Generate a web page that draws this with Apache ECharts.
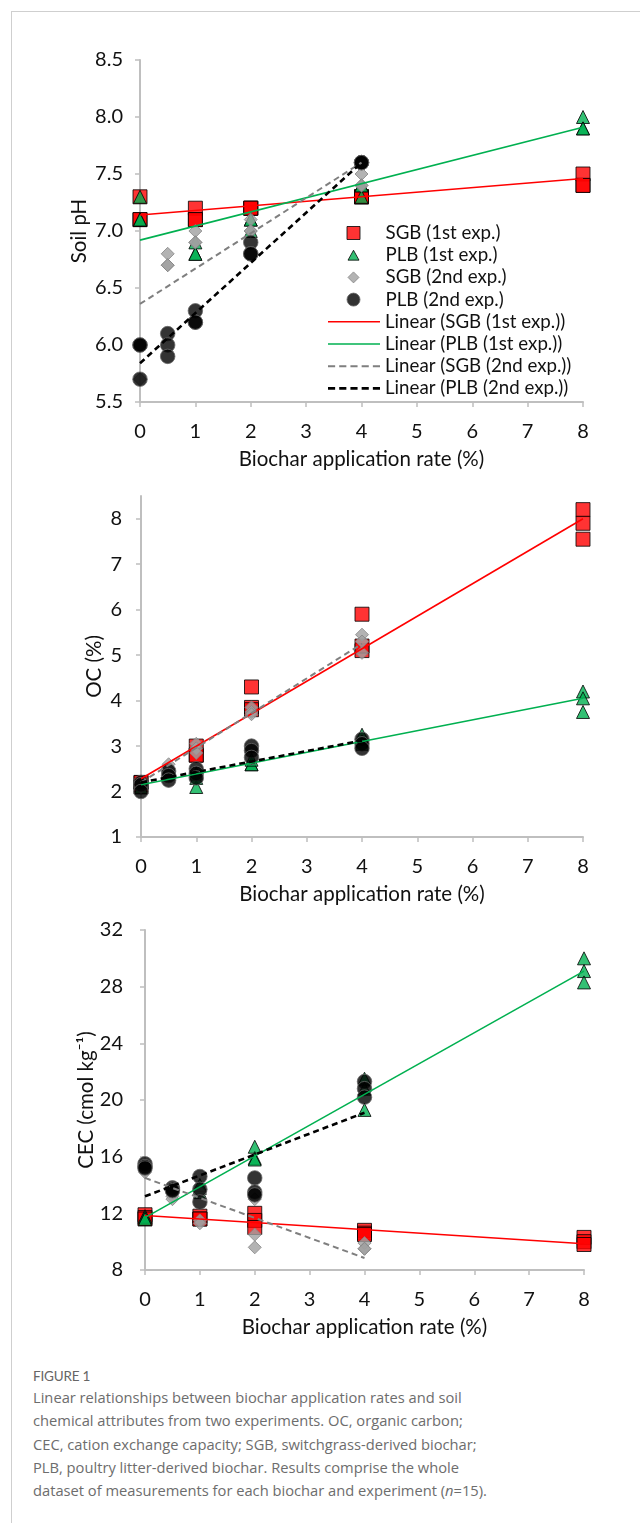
<!DOCTYPE html>
<html>
<head>
<meta charset="utf-8">
<script src="https://cdn.jsdelivr.net/npm/echarts@6/dist/echarts.min.js"></script>
<style>
  html, body { margin: 0; padding: 0; background: #fff; }
  #frame { position: absolute; left: 11px; top: 11px; width: 629px; height: 1512px;
           border-top: 1px solid #cfcfcf; border-left: 1px solid #cfcfcf; }
  #chart { position: absolute; left: 0; top: 0; width: 640px; height: 1340px; }
  #cap { position: absolute; left: 33px; top: 1366px; width: 600px; font-family: "Open Sans", Lato, sans-serif; color: #6d6d6d; }
  #cap .fig { font-family: Lato, sans-serif; font-size: 13.5px; line-height: 20px; color: #666; letter-spacing: -0.2px; }
  #cap .txt { font-size: 14.7px; line-height: 23.3px; margin-top: 0px; }
</style>
</head>
<body>
<div id="frame"></div>
<div id="chart"></div>
<div id="cap">
  <div class="fig">FIGURE 1</div>
  <div class="txt">Linear relationships between biochar application rates and soil<br>chemical attributes from two experiments. OC, organic carbon;<br>CEC, cation exchange capacity; SGB, switchgrass-derived biochar;<br>PLB, poultry litter-derived biochar. Results comprise the whole<br>dataset of measurements for each biochar and experiment (<i>n</i>=15).</div>
</div>
<script>
// ---- Data ----
const rates1 = [0,0,0, 1,1,1, 2,2,2, 4,4,4, 8,8,8];        // 1st experiment
const rates2 = [0,0,0, 0.5,0.5,0.5, 1,1,1, 2,2,2, 4,4,4];  // 2nd experiment

const seriesNames = ['SGB (1st exp.)', 'PLB (1st exp.)', 'SGB (2nd exp.)', 'PLB (2nd exp.)'];
const trendNames = ['Linear (SGB (1st exp.))', 'Linear (PLB (1st exp.))', 'Linear (SGB (2nd exp.))', 'Linear (PLB (2nd exp.))'];

// Soil pH
const phSGB1 = [7.3,7.1,7.1, 7.2,7.1,7.1, 7.2,7.2,7.2, 7.3,7.3,7.3, 7.5,7.4,7.4];
const phPLB1 = [7.3,7.1,7.1, 6.9,6.8,6.8, 7.1,7.0,7.1, 7.4,7.4,7.3, 8.0,7.9,7.9];
const phSGB2 = [6.0,6.0,5.7, 6.8,6.7,6.7, 7.0,6.9,6.9, 7.1,7.0,7.0, 7.5,7.4,7.4];
const phPLB2 = [6.0,6.0,5.7, 6.1,6.0,5.9, 6.3,6.2,6.2, 6.9,6.8,6.8, 7.6,7.6,7.6];
const phTrendSGB1 = [[0,7.14],[8,7.46]];
const phTrendPLB1 = [[0,6.92],[8,7.91]];
const phTrendSGB2 = [[0,6.36],[4,7.60]];
const phTrendPLB2 = [[0,5.84],[4,7.60]];

// OC (%)
const ocSGB1 = [2.2,2.2,2.1, 3.0,2.8,2.8, 4.3,3.85,3.8, 5.9,5.1,5.2, 8.2,7.9,7.55];
const ocPLB1 = [2.2,2.2,2.1, 2.1,2.3,2.4, 2.6,2.6,2.7, 3.25,3.1,3.05, 4.2,4.05,3.75];
const ocSGB2 = [2.2,2.2,2.1, 2.6,2.5,2.45, 3.05,2.95,2.85, 3.85,3.75,3.7, 5.45,5.3,5.05];
const ocPLB2 = [2.2,2.15,2.0, 2.45,2.35,2.25, 2.5,2.4,2.3, 3.0,2.9,2.75, 3.15,3.05,2.95];
const ocTrendSGB1 = [[0,2.28],[8,8.0]];
const ocTrendPLB1 = [[0,2.15],[8,4.05]];
const ocTrendSGB2 = [[0,2.2],[4,5.25]];
const ocTrendPLB2 = [[0,2.2],[4,3.12]];

// CEC (cmol kg-1)
const cecSGB1 = [11.9,11.7,11.6, 11.8,11.6,11.6, 12.0,11.5,11.0, 10.8,10.6,10.5, 10.3,10.0,9.8];
const cecPLB1 = [11.8,11.7,11.6, 13.5,13.8,14.0, 16.7,15.9,15.8, 21.5,20.8,19.3, 30.0,29.1,28.3];
const cecSGB2 = [15.3,15.0,14.9, 13.5,13.2,13.0, 13.5,11.5,11.3, 13.0,10.5,9.6, 9.9,9.5,9.5];
const cecPLB2 = [15.5,15.3,15.2, 13.8,13.7,13.6, 14.6,13.7,12.8, 14.5,13.5,13.3, 21.3,20.8,20.2];
const cecTrendSGB1 = [[0,11.85],[8,9.85]];
const cecTrendPLB1 = [[0,11.7],[8,29.1]];
const cecTrendSGB2 = [[0,14.5],[4,8.85]];
const cecTrendPLB2 = [[0,13.2],[4,19.1]];

const xTicks = [0,1,2,3,4,5,6,7,8];
const phTicks = [5.5,6.0,6.5,7.0,7.5,8.0,8.5];
const ocTicks = [1,2,3,4,5,6,7,8];
const cecTicks = [8,12,16,20,24,28,32];

// ---- Chart ----
const FONT = 'Lato, "Open Sans", sans-serif';
const TXT = '#111';
const AXC = '#bfbfbf';
const TICK_FS = 20, NAME_FS = 20.5, LEG_FS = 18.7;

function pairs(xs, ys) { return xs.map((x, i) => [x, ys[i]]); }

const markerStyles = [
  { symbol: 'rect', symbolSize: 14, itemStyle: { color: '#ff0000', borderColor: '#000', borderWidth: 1 } },
  { symbol: 'triangle', symbolSize: 13, itemStyle: { color: '#00b050', borderColor: '#000', borderWidth: 1 } },
  { symbol: 'diamond', symbolSize: 13, itemStyle: { color: '#a0a0a0', borderColor: '#858585', borderWidth: 1 } },
  { symbol: 'circle', symbolSize: 14.5, itemStyle: { color: '#000', borderColor: '#666', borderWidth: 1 } }
];
const lineStyles = [
  { color: '#ff0000', width: 1.6, type: 'solid' },
  { color: '#00b050', width: 1.6, type: 'solid' },
  { color: '#7f7f7f', width: 2, type: [6, 4] },
  { color: '#000000', width: 2.6, type: [6, 4] }
];

// legend icons (kept aspect via path)
const legendIcons = [
  { icon: 'path://M0,0h10v10h-10z', size: 13 },
  { icon: 'path://M5,0L10,9L0,9Z', size: 11 },
  { icon: 'path://M5,0L10,5L5,10L0,5Z', size: 11 },
  { icon: 'path://M0,5a5,5 0 1,0 10,0a5,5 0 1,0 -10,0Z', size: 13 }
];
const lineIcons = [
  'path://M0,0h52v1.6h-52z',
  'path://M0,0h52v1.6h-52z',
  'path://M0,0h7v2h-7z M11,0h7v2h-7z M22,0h7v2h-7z M33,0h7v2h-7z M44,0h7v2h-7z',
  'path://M0,0h7v2.6h-7z M11,0h7v2.6h-7z M22,0h7v2.6h-7z M33,0h7v2.6h-7z M44,0h7v2.6h-7z'
];

function xAxis(gi) {
  return {
    type: 'value', gridIndex: gi, min: 0, max: 8, interval: 1,
    name: 'Biochar application rate (%)', nameLocation: 'middle', nameGap: 47, nameMoveOverlap: false,
    nameTextStyle: { fontFamily: FONT, fontSize: NAME_FS, color: TXT },
    axisLine: { show: true, lineStyle: { color: AXC, width: 2 } },
    axisTick: { show: true, length: 5, lineStyle: { color: AXC, width: 1.5 } },
    axisLabel: { fontFamily: FONT, fontSize: TICK_FS, color: TXT, margin: 20, customValues: xTicks },
    splitLine: { show: false }
  };
}
function yAxis(gi, name, min, max, interval, ticks, gap, fmt, margin) {
  return {
    type: 'value', gridIndex: gi, min: min, max: max, interval: interval,
    name: name, nameLocation: 'middle', nameGap: gap, nameMoveOverlap: false,
    nameTextStyle: { fontFamily: FONT, fontSize: NAME_FS, color: TXT },
    axisLine: { show: true, lineStyle: { color: AXC, width: 2 } },
    axisTick: { show: true, length: 5, lineStyle: { color: AXC, width: 1.5 }, customValues: ticks },
    axisLabel: { fontFamily: FONT, fontSize: TICK_FS, color: TXT, margin: margin, customValues: ticks, formatter: fmt },
    splitLine: { show: false }
  };
}

const panels = [
  { pts: [phSGB1, phPLB1, phSGB2, phPLB2], trends: [phTrendSGB1, phTrendPLB1, phTrendSGB2, phTrendPLB2] },
  { pts: [ocSGB1, ocPLB1, ocSGB2, ocPLB2], trends: [ocTrendSGB1, ocTrendPLB1, ocTrendSGB2, ocTrendPLB2] },
  { pts: [cecSGB1, cecPLB1, cecSGB2, cecPLB2], trends: [cecTrendSGB1, cecTrendPLB1, cecTrendSGB2, cecTrendPLB2] }
];

const series = [];
panels.forEach((p, gi) => {
  p.pts.forEach((ys, si) => {
    series.push(Object.assign({
      type: 'scatter', name: seriesNames[si], xAxisIndex: gi, yAxisIndex: gi,
      data: pairs(si < 2 ? rates1 : rates2, ys), z: 2, silent: true
    }, markerStyles[si]));
  });
  p.trends.forEach((t, si) => {
    series.push({
      type: 'line', name: trendNames[si], xAxisIndex: gi, yAxisIndex: gi,
      data: t, symbol: 'none', lineStyle: lineStyles[si], itemStyle: { color: lineStyles[si].color },
      z: 3, silent: true, animation: false
    });
  });
});

// One legend component per row for exact placement
const ROW0 = 233, ROWH = 22.2, ICON_CX = 353, TEXT_X = 385;
const legends = [];
seriesNames.forEach((n, i) => {
  const s = legendIcons[i].size;
  const left = ICON_CX - s / 2;
  const padL = TEXT_X - (left + s + 5);
  legends.push({
    orient: 'vertical', left: left, top: ROW0 + i * ROWH - 11, padding: 0,
    itemWidth: s, itemHeight: s, selectedMode: false,
    textStyle: { fontFamily: FONT, fontSize: LEG_FS, color: TXT, lineHeight: 22, padding: [0, 0, 0, padL] },
    data: [{ name: n, icon: legendIcons[i].icon, itemStyle: markerStyles[i].itemStyle }]
  });
});
trendNames.forEach((n, i) => {
  legends.push({
    orient: 'vertical', left: 328, top: ROW0 + (i + 4) * ROWH - 11, padding: 0,
    itemWidth: 52, itemHeight: 13, selectedMode: false,
    textStyle: { fontFamily: FONT, fontSize: LEG_FS, color: TXT, lineHeight: 22, padding: [0, 0, 0, 0] },
    data: [{ name: n, icon: lineIcons[i], itemStyle: { color: lineStyles[i].color, borderWidth: 0 } }]
  });
});

const chart = echarts.init(document.getElementById('chart'), null, { renderer: 'canvas' });
chart.setOption({
  animation: false,
  backgroundColor: 'transparent',
  grid: [
    { left: 140, top: 60, width: 443, height: 342 },
    { left: 141, top: 496, width: 442, height: 341 },
    { left: 145, top: 930, width: 439, height: 340 }
  ],
  xAxis: [xAxis(0), xAxis(1), xAxis(2)],
  yAxis: [
    yAxis(0, 'Soil pH', 5.5, 8.5, 0.5, phTicks, 50, v => v.toFixed(1), 17),
    yAxis(1, 'OC (%)', 1, 8.5, 1, ocTicks, 36, v => String(v), 19),
    yAxis(2, 'CEC (cmol kg\u207B\u00B9)', 8, 32, 4, cecTicks, 48, v => String(v), 22)
  ],
  legend: legends,
  series: series
});
</script>
</body>
</html>
